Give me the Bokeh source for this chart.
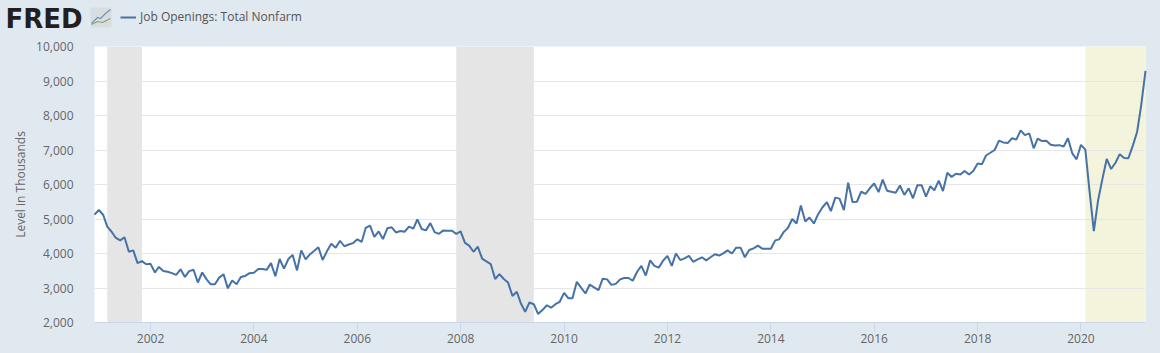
from bokeh.plotting import figure
from bokeh.embed import file_html
from bokeh.resources import INLINE
from bokeh.models import (Range1d, FixedTicker, NumeralTickFormatter, DatetimeTickFormatter,
                          Label, Legend, LegendItem, BoxAnnotation)
import pandas as pd

SERIES_NAME = "Job Openings: Total Nonfarm"
Y_TITLE = "Level in Thousands"
LOGO_TEXT = "FRED"
START_MONTH = "2000-12-01"
END_MONTH = "2021-04-01"
YEAR_TICKS = ["2002", "2004", "2006", "2008", "2010", "2012", "2014", "2016", "2018", "2020"]
VALUE_TICKS = [2000, 3000, 4000, 5000, 6000, 7000, 8000, 9000, 10000]

recession_start = ["2001-03-01", "2007-12-01"]
recession_end = ["2001-11-01", "2009-06-01"]
covid_start = ["2020-02-01"]
covid_end = ["2021-04-01"]

openings = [
    5125,
    5260, 5115, 4780, 4630, 4450, 4380, 4470, 4050, 4090, 3720, 3780, 3690,
    3700, 3450, 3610, 3490, 3470, 3430, 3380, 3540, 3320, 3490, 3530, 3160,
    3450, 3250, 3110, 3110, 3300, 3400, 2990, 3220, 3110, 3320, 3350, 3430,
    3440, 3550, 3550, 3530, 3720, 3340, 3840, 3560, 3840, 3960, 3510, 4090,
    3830, 3980, 4070, 4180, 3810, 4070, 4280, 4170, 4370, 4210, 4260, 4300,
    4410, 4340, 4740, 4810, 4480, 4640, 4420, 4730, 4760, 4610, 4650, 4630,
    4780, 4720, 4990, 4710, 4670, 4880, 4620, 4570, 4670, 4660, 4660, 4570,
    4640, 4310, 4230, 4050, 4200, 3850, 3770, 3690, 3260, 3400, 3260, 3160,
    2770, 2890, 2560, 2310, 2580, 2530, 2250, 2360, 2500, 2430, 2530, 2600,
    2860, 2700, 2700, 3180, 3010, 2840, 3100, 3020, 2940, 3270, 3250, 3090,
    3120, 3250, 3290, 3290, 3210, 3470, 3640, 3360, 3800, 3640, 3590, 3790,
    3930, 3640, 4000, 3810, 3860, 3930, 3760, 3830, 3890, 3800, 3890, 3980,
    3940, 4010, 4090, 4000, 4170, 4170, 3890, 4100, 4150, 4230, 4140, 4140,
    4140, 4380, 4410, 4620, 4740, 5000, 4870, 5390, 4930, 5040, 4870, 5140,
    5340, 5490, 5230, 5620, 5590, 5260, 6050, 5490, 5500, 5790, 5730, 5890,
    6030, 5780, 6140, 5820, 5790, 5760, 5970, 5700, 5890, 5600, 5980, 5980,
    5650, 5950, 5830, 6110, 5810, 6340, 6220, 6310, 6290, 6390, 6290, 6390,
    6610, 6590, 6840, 6920, 7000, 7270, 7220, 7200, 7340, 7300, 7570, 7430,
    7480, 7050, 7330, 7260, 7270, 7150, 7130, 7140, 7100, 7340, 6900, 6730,
    7150, 7010, 5830, 4650, 5540, 6170, 6740, 6450, 6630, 6880, 6770, 6760,
    7120, 7530, 8280, 9290,
]

BG = "#e1e9f0"
LINE = "#4572a7"
TEXT = "#666666"
FONT = "Open Sans"

dates = pd.date_range(START_MONTH, END_MONTH, freq="MS")[: len(openings)]


def ts(s):
    return pd.Timestamp(s)


# ---- header strip: logo and legend, in pixel coordinates
head = figure(
    width=1160, height=38, output_backend="svg", toolbar_location=None,
    x_range=Range1d(0, 1160), y_range=Range1d(38, 0),
    background_fill_color=BG, border_fill_color=BG, outline_line_color=None,
    min_border=0, x_axis_location=None, y_axis_location=None,
)
head.grid.visible = False
head.add_layout(Label(x=5, y=18, text=LOGO_TEXT, text_font="DejaVu Sans", text_font_style="bold",
                      text_font_size="26px", text_color="#231f20", text_baseline="middle"))
head.add_layout(BoxAnnotation(left=90, right=111, top=7, bottom=27, fill_color="#d7dde0",
                              fill_alpha=1, line_color=None, level="underlay"))
head.line([91, 97, 100, 105, 110], [23, 17, 18, 13, 9], line_color="#6f93b8", line_width=1.2)
head.line([91, 97, 102, 110], [24, 21, 22, 18], line_color="#8aa860", line_width=1.2)
sample = head.line([-20, -10], [-20, -10], line_color=LINE, line_width=2)
head.add_layout(Legend(items=[LegendItem(label=SERIES_NAME, renderers=[sample])],
                       location=(120, 13), orientation="horizontal",
                       background_fill_alpha=0, border_line_color=None,
                       label_text_font=FONT, label_text_font_size="12px",
                       label_text_color="#555555", glyph_width=16, glyph_height=12,
                       padding=0, margin=0, label_standoff=4, spacing=0), "center")

# ---- chart
p = figure(
    width=1160, height=315, output_backend="svg", toolbar_location=None,
    x_axis_type="datetime",
    x_range=Range1d(ts(START_MONTH), ts(END_MONTH)),
    y_range=Range1d(VALUE_TICKS[0], VALUE_TICKS[-1]),
    background_fill_color="white", border_fill_color=BG,
    min_border_left=94, min_border_right=15, min_border_top=8, min_border_bottom=31,
    outline_line_color=None,
)

p.quad(left=[ts(s) for s in recession_start], right=[ts(s) for s in recession_end],
       bottom=VALUE_TICKS[0], top=VALUE_TICKS[-1], color="#e5e5e5", line_color=None, level="underlay")
p.quad(left=[ts(s) for s in covid_start], right=[ts(s) for s in covid_end],
       bottom=VALUE_TICKS[0], top=VALUE_TICKS[-1], color="#f4f3dc", line_color=None, level="underlay")

p.line(dates, openings, line_color=LINE, line_width=2, level="overlay")

p.xgrid.visible = False
p.ygrid.grid_line_color = "#e6e6e6"
p.ygrid.grid_line_width = 1
p.ygrid.level = "glyph"
p.ygrid.ticker = FixedTicker(ticks=VALUE_TICKS)

xa = p.xaxis[0]
xa.ticker = FixedTicker(ticks=[ts(y + "-01-01").timestamp() * 1000 for y in YEAR_TICKS])
xa.formatter = DatetimeTickFormatter(years="%Y", months="%Y", days="%Y", hours="%Y",
                                     context=None)
xa.axis_line_color = "#ccd6eb"
xa.major_tick_line_color = "#ccd6eb"
xa.major_tick_out = 9
xa.major_tick_in = 0
xa.minor_tick_line_color = None
xa.major_label_standoff = 2
xa.major_label_text_font = FONT
xa.major_label_text_font_size = "12px"
xa.major_label_text_color = TEXT

ya = p.yaxis[0]
ya.ticker = FixedTicker(ticks=VALUE_TICKS)
ya.formatter = NumeralTickFormatter(format="0,0")
ya.axis_line_color = None
ya.major_tick_line_color = None
ya.minor_tick_line_color = None
ya.major_label_standoff = 15
ya.major_label_text_font = FONT
ya.major_label_text_font_size = "12px"
ya.major_label_text_color = TEXT
ya.axis_label = Y_TITLE
ya.axis_label_text_font = FONT
ya.axis_label_text_font_size = "12px"
ya.axis_label_text_font_style = "normal"
ya.axis_label_text_color = TEXT
ya.axis_label_standoff = 4

out = file_html([head, p], INLINE)
out = out.replace("</head>", "<style>html,body{background:%s}</style></head>" % BG, 1)
open("out.html", "w").write(out)
